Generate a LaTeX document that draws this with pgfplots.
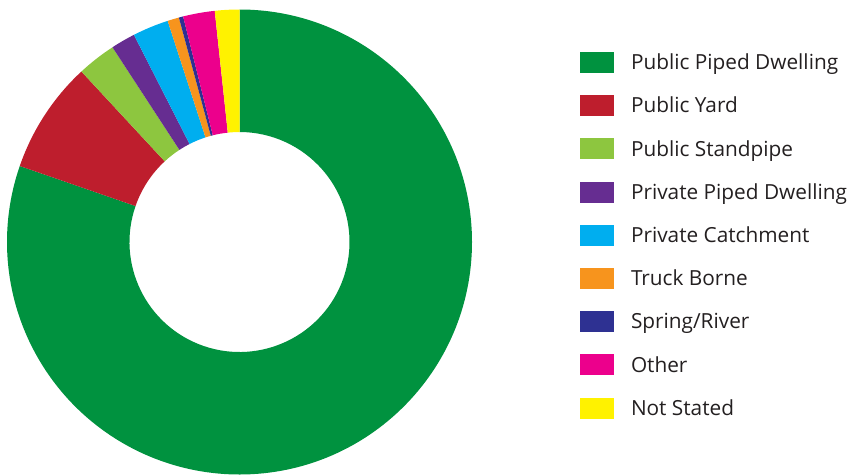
\documentclass[border=0pt]{standalone}
\usepackage{fontspec}
\setmainfont{Open Sans}
\usepackage{pgfplots}
\usepackage{pgfplotstable}
\pgfplotsset{compat=1.18}
\definecolor{c0}{HTML}{00923F}
\definecolor{c1}{HTML}{BE1E2D}
\definecolor{c2}{HTML}{8DC63F}
\definecolor{c3}{HTML}{662D91}
\definecolor{c4}{HTML}{00AEEF}
\definecolor{c5}{HTML}{F7941D}
\definecolor{c6}{HTML}{2E3192}
\definecolor{c7}{HTML}{EC008C}
\definecolor{c8}{HTML}{FFF200}
\definecolor{txt}{HTML}{231F20}
\pgfplotstableread{
source value
PublicPipedDwelling 80.3
PublicYard 7.8
PublicStandpipe 2.7
PrivatePipedDwelling 1.7
PrivateCatchment 2.5
TruckBorne 0.8
SpringRiver 0.3
Other 2.2
NotStated 1.7
}\datatable
\begin{document}
\begin{tikzpicture}
\useasboundingbox (0,0) rectangle (849bp,475bp);
\begin{axis}[
  at={(0,0)}, anchor=origin,
  x=1bp, y=1bp, xmin=0, xmax=849, ymin=0, ymax=475,
  hide axis, clip=false,
  legend image code/.code={\fill[#1, draw=none] (0bp,-10.5bp) rectangle (34bp,10.5bp);},
  legend cell align=left,
  legend style={at={(axis cs:580,423)}, anchor=north west, draw=none, fill=none,
    inner sep=0pt, outer sep=0pt, row sep=22.2bp, column sep=17bp,
    font=\fontsize{20.8bp}{25bp}\selectfont,
    nodes={inner sep=0pt, outer sep=0pt, text height=16.4bp, text depth=2bp, text=txt}},
]
\def\cum{0}
\pgfplotsforeachungrouped \i in {0,...,8}{%
  \pgfplotstablegetelem{\i}{value}\of\datatable
  \let\v\pgfplotsretval
  \pgfmathsetmacro\a{90-3.6*\cum}%
  \pgfmathsetmacro\cum{\cum+\v}%
  \pgfmathsetmacro\b{90-3.6*\cum}%
  \pgfmathsetmacro\xo{239.5+232.5*cos(\a)}%
  \pgfmathsetmacro\yo{233+232.5*sin(\a)}%
  \pgfmathsetmacro\xi{239.5+110*cos(\b)}%
  \pgfmathsetmacro\yi{233+110*sin(\b)}%
  \edef\cmd{\noexpand\fill[c\i] (axis cs:\xo,\yo) arc[start angle=\a, end angle=\b, radius=232.5bp] -- (axis cs:\xi,\yi) arc[start angle=\b, end angle=\a, radius=110bp] -- cycle;}%
  \cmd
}
\addlegendimage{fill=c0}
\addlegendimage{fill=c1}
\addlegendimage{fill=c2}
\addlegendimage{fill=c3}
\addlegendimage{fill=c4}
\addlegendimage{fill=c5}
\addlegendimage{fill=c6}
\addlegendimage{fill=c7}
\addlegendimage{fill=c8}
\legend{Public Piped Dwelling, Public Yard, Public Standpipe, Private Piped Dwelling, Private Catchment, Truck Borne, Spring/River, Other, Not Stated}
\end{axis}
\end{tikzpicture}
\end{document}
